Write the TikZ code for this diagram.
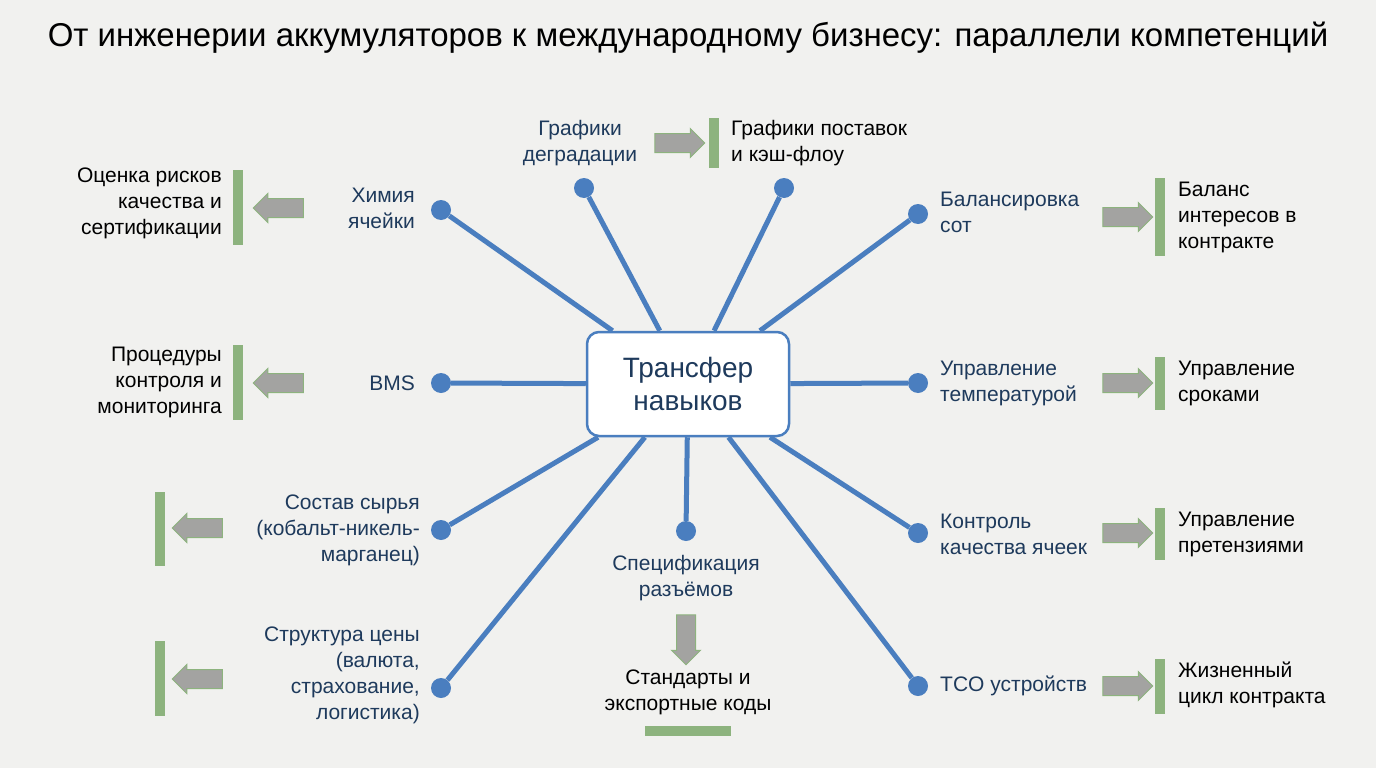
\documentclass[tikz,border=0pt]{standalone}
\usepackage{fontspec}
\setmainfont{Liberation Sans}
\usetikzlibrary{shapes.arrows}
\definecolor{linkblue}{HTML}{4A7EBF}
\definecolor{inkblue}{HTML}{1E3A5C}
\definecolor{barsage}{HTML}{8DB37E}
\definecolor{arrgray}{HTML}{A3A3A1}
\definecolor{paper}{HTML}{F1F1EF}
\tikzset{
  hub/.style={draw=linkblue, line width=2.5pt, rounded corners=12pt, fill=white,
    minimum width=202pt, minimum height=104pt, text=inkblue, align=center,
    font=\fontsize{28}{33}\selectfont},
  dot/.style={circle, fill=linkblue, minimum size=20pt, inner sep=0pt},
  link/.style={linkblue, line width=5pt},
  lbl/.style={text=inkblue, font=\fontsize{21}{26}\selectfont, inner sep=0pt},
  res/.style={text=black, font=\fontsize{21}{26}\selectfont, inner sep=0pt},
  garrow/.style={single arrow, fill=arrgray, draw=barsage, line width=1pt,
    minimum height=50pt, minimum width=28pt, single arrow head extend=5pt, inner sep=9pt},
  bar/.style={fill=barsage}
}
\begin{document}
\begin{tikzpicture}[x=1pt, y=-1pt]
  \fill[paper] (0,0) rectangle (1376,768);
  \node[font=\fontsize{33}{38}\selectfont] (title) at (688,38)
    {От инженерии аккумуляторов к международному бизнесу: параллели компетенций};

  \node[hub] (hub) at (688,384) {Трансфер\\навыков};

  % dots
  \node[dot] (chem) at (441,210) {};
  \node[dot] (degr) at (584,188) {};
  \node[dot] (flow) at (784,188) {};
  \node[dot] (bal) at (918,214) {};
  \node[dot] (bms) at (441,383) {};
  \node[dot] (temp) at (918,383) {};
  \node[dot] (raw) at (441,530) {};
  \node[dot] (spec) at (686,531) {};
  \node[dot] (qual) at (918,533) {};
  \node[dot] (price) at (441,688) {};
  \node[dot] (tco) at (918,686) {};
  \foreach \d in {chem,degr,flow,bal,bms,temp,raw,spec,qual,price,tco}
    \draw[link] (\d) -- (hub);

  % engineering labels
  \node[lbl, anchor=east, align=right] (chemt) at (415,208) {Химия\\ячейки};
  \node[lbl, align=center] (degrt) at (580,143) {Графики\\деградации};
  \node[lbl, anchor=west, align=left] (balt) at (940,212) {Балансировка\\сот};
  \node[lbl, anchor=east] (bmst) at (415,383) {BMS};
  \node[lbl, anchor=west, align=left] (tempt) at (940,383) {Управление\\температурой};
  \node[lbl, anchor=east, align=right] (rawt) at (420,530) {Состав сырья\\(кобальт-никель-\\марганец)};
  \node[lbl, align=center] (spect) at (686,578) {Спецификация\\разъёмов};
  \node[lbl, anchor=west, align=left] (qualt) at (940,534) {Контроль\\качества ячеек};
  \node[lbl, anchor=east, align=right] (pricet) at (420,675) {Структура цены\\(валюта,\\страхование,\\логистика)};
  \node[lbl, anchor=west] (tcot) at (940,686) {TCO устройств};

  % arrows
  \node[garrow, shape border rotate=180] (a1) at (283,208) {};
  \node[garrow, shape border rotate=180] (a2) at (283,383) {};
  \node[garrow, shape border rotate=180] (a3) at (202,528) {};
  \node[garrow, shape border rotate=180] (a4) at (202,679) {};
  \node[garrow] (a5) at (675,143) {};
  \node[garrow] (a6) at (1123,217) {};
  \node[garrow] (a7) at (1123,383) {};
  \node[garrow] (a8) at (1123,533) {};
  \node[garrow] (a9) at (1123,686) {};
  \node[garrow, shape border rotate=270] (a10) at (686,635) {};

  % bars
  \fill[bar] (233,170) rectangle (243,245);
  \fill[bar] (233,345) rectangle (243,420);
  \fill[bar] (155,492) rectangle (165,566);
  \fill[bar] (155,641) rectangle (165,716);
  \fill[bar] (709,118) rectangle (719,168);
  \fill[bar] (1155,178) rectangle (1165,256);
  \fill[bar] (1155,357) rectangle (1165,410);
  \fill[bar] (1155,508) rectangle (1165,560);
  \fill[bar] (1155,659) rectangle (1165,714);
  \fill[bar] (645,726) rectangle (731,736);

  % business labels
  \node[res, anchor=east, align=right] (r1) at (222,203) {Оценка рисков\\качества и\\сертификации};
  \node[res, anchor=east, align=right] (r2) at (222,382) {Процедуры\\контроля и\\мониторинга};
  \node[res, anchor=west, align=left] (r5) at (731,143) {Графики поставок\\и кэш-флоу};
  \node[res, anchor=west, align=left] (r6) at (1178,217) {Баланс\\интересов в\\контракте};
  \node[res, anchor=west, align=left] (r7) at (1178,383) {Управление\\сроками};
  \node[res, anchor=west, align=left] (r8) at (1178,534) {Управление\\претензиями};
  \node[res, anchor=west, align=left] (r9) at (1178,685) {Жизненный\\цикл контракта};
  \node[res, align=center] (r10) at (688,692) {Стандарты и\\экспортные коды};
\end{tikzpicture}
\end{document}
